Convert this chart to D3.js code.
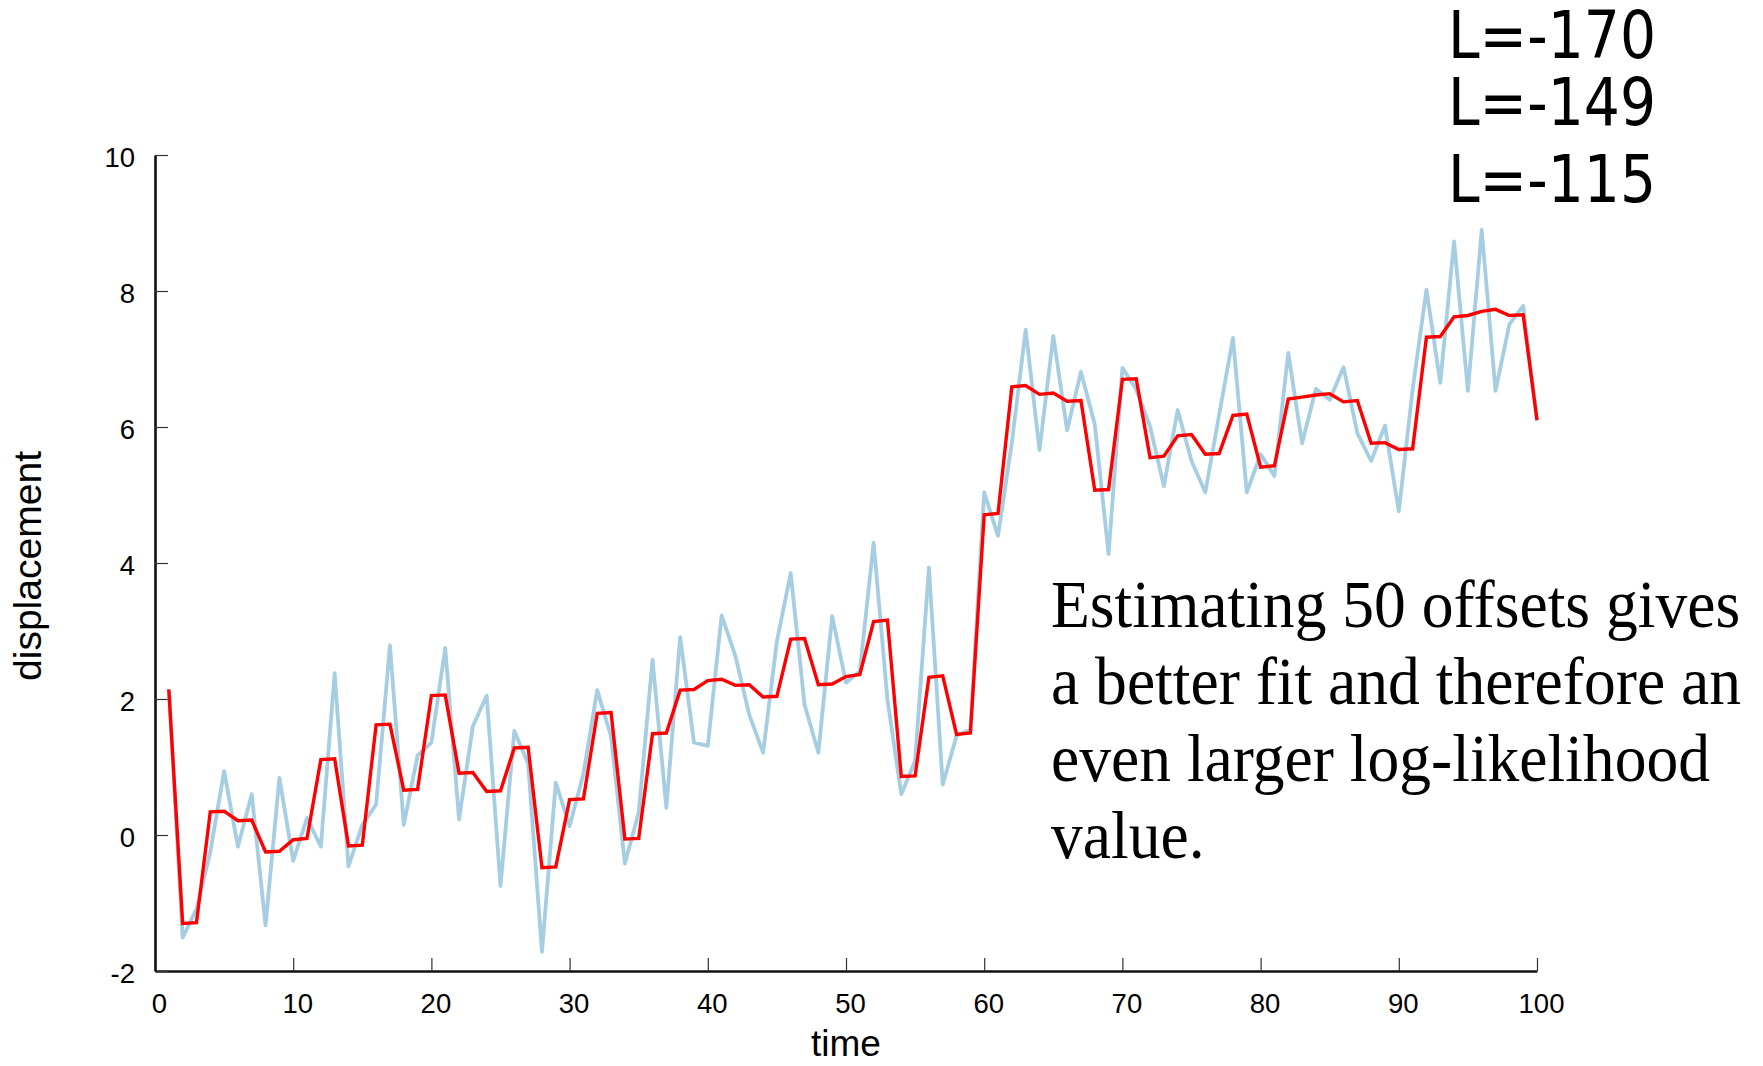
<!DOCTYPE html>
<html>
<head>
<meta charset="utf-8">
<script src="https://cdn.jsdelivr.net/npm/d3@7"></script>
<style>
  body { margin: 0; background: #fff; }
  svg { display: block; }
</style>
</head>
<body>
<div id="chart"></div>
<script>
// observed displacement (light blue) and fitted offsets (red), t = 1..100
const times = d3.range(1, 101)

const observed = [
  2.14, -1.51, -1.09, -0.25, 0.94, -0.17, 0.60, -1.33, 0.84, -0.38,
  0.25, -0.17, 2.38, -0.46, 0.15, 0.45, 2.79, 0.15, 1.17, 1.36,
  2.75, 0.23, 1.60, 2.05, -0.75, 1.53, 1.05, -1.72, 0.77, 0.13,
  0.90, 2.13, 1.45, -0.42, 0.33, 2.58, 0.40, 2.91, 1.36, 1.31,
  3.23, 2.63, 1.77, 1.21, 2.85, 3.85, 1.92, 1.21, 3.22, 2.24,
  2.41, 4.30, 1.99, 0.60, 1.09, 3.93, 0.74, 1.46, 1.55, 5.04,
  4.40, 5.77, 7.43, 5.66, 7.34, 5.95, 6.81, 6.04, 4.13, 6.87,
  6.55, 6.01, 5.13, 6.25, 5.50, 5.04, 6.18, 7.31, 5.04, 5.60,
  5.28, 7.09, 5.76, 6.56, 6.40, 6.88, 5.91, 5.50, 6.02, 4.76,
  6.55, 8.02, 6.65, 8.73, 6.53, 8.90, 6.53, 7.51, 7.78, 6.10
]

const fitted = [
  2.14, -1.30, -1.29, 0.34, 0.35, 0.21, 0.22, -0.25, -0.24, -0.07,
  -0.05, 1.11, 1.12, -0.16, -0.15, 1.62, 1.63, 0.66, 0.67, 2.05,
  2.06, 0.91, 0.92, 0.64, 0.65, 1.28, 1.29, -0.48, -0.47, 0.52,
  0.53, 1.79, 1.80, -0.06, -0.05, 1.49, 1.50, 2.13, 2.14, 2.27,
  2.29, 2.20, 2.21, 2.03, 2.04, 2.88, 2.89, 2.21, 2.22, 2.33,
  2.36, 3.14, 3.16, 0.86, 0.87, 2.32, 2.34, 1.48, 1.50, 4.71,
  4.73, 6.59, 6.61, 6.48, 6.50, 6.38, 6.39, 5.07, 5.08, 6.70,
  6.71, 5.55, 5.57, 5.87, 5.89, 5.60, 5.61, 6.17, 6.19, 5.41,
  5.43, 6.41, 6.44, 6.47, 6.49, 6.37, 6.39, 5.76, 5.77, 5.67,
  5.68, 7.32, 7.33, 7.62, 7.64, 7.70, 7.73, 7.64, 7.65, 6.10
]

const xTicks = [0, 10, 20, 30, 40, 50, 60, 70, 80, 90, 100]
const yTicks = [-2, 0, 2, 4, 6, 8, 10]

const likelihoods = ["L=-170", "L=-149", "L=-115"]
const note = [
  "Estimating 50 offsets gives",
  "a better fit and therefore an",
  "even larger log-likelihood",
  "value."
]

const W = 1763, H = 1066
const margin = { top: 155, right: 226, bottom: 95, left: 155 }

const svg = d3.select("#chart").append("svg")
  .attr("width", W).attr("height", H)

const x = d3.scaleLinear().domain([0, 100]).range([margin.left, W - margin.right])
const y = d3.scaleLinear().domain([-2, 10]).range([H - margin.bottom, margin.top])

// axes, ticks point inward; plain hyphen for negatives
const xAxis = svg.append("g")
  .attr("transform", `translate(0,${y(-2)})`)
  .call(d3.axisBottom(x).tickValues(xTicks).tickFormat(d => String(d))
    .tickSizeInner(-13).tickSizeOuter(0).tickPadding(22))

const yAxis = svg.append("g")
  .attr("transform", `translate(${x(0)},0)`)
  .call(d3.axisLeft(y).tickValues(yTicks).tickFormat(d => String(d))
    .tickSizeInner(-13).tickSizeOuter(0).tickPadding(20))

for (const ax of [xAxis, yAxis]) {
  ax.select(".domain").attr("stroke", "#111").attr("stroke-width", 2.6)
  ax.selectAll(".tick line").attr("stroke", "#333").attr("stroke-width", 1.2)
  ax.selectAll(".tick text")
    .style("font-family", "'Liberation Sans', Arial, sans-serif")
    .style("font-size", "27.5px").attr("fill", "#000")
}
xAxis.selectAll(".tick text").attr("dx", 4)
yAxis.selectAll(".tick text").attr("dy", "0.42em")

// axis titles
svg.append("text")
  .attr("x", x(50)).attr("y", 1056)
  .attr("text-anchor", "middle")
  .style("font-family", "'Liberation Sans', Arial, sans-serif")
  .style("font-size", "37px")
  .text("time")

svg.append("text")
  .attr("transform", `translate(41,${y(4) + 3}) rotate(-90)`)
  .attr("text-anchor", "middle")
  .attr("textLength", 230)
  .attr("lengthAdjust", "spacingAndGlyphs")
  .style("font-family", "'Liberation Sans', Arial, sans-serif")
  .style("font-size", "38px")
  .text("displacement")

// lines
const line = d3.line().x((d, i) => x(times[i])).y(d => y(d))

svg.append("path")
  .datum(observed)
  .attr("d", line)
  .attr("fill", "none")
  .attr("stroke", "#a6cee3")
  .attr("stroke-width", 3.8)
  .attr("stroke-linejoin", "round")

svg.append("path")
  .datum(fitted)
  .attr("d", line)
  .attr("fill", "none")
  .attr("stroke", "#ff0000")
  .attr("stroke-width", 3.4)
  .attr("stroke-linejoin", "miter")

// log-likelihood labels top right
svg.selectAll(".lik")
  .data(likelihoods).join("text")
  .attr("class", "lik")
  .attr("x", 1448)
  .attr("y", (d, i) => [58, 125, 202][i])
  .attr("textLength", 208)
  .attr("lengthAdjust", "spacingAndGlyphs")
  .style("font-family", "'DejaVu Sans', Verdana, sans-serif")
  .style("font-size", "65px")
  .text(d => d)

// annotation
const noteG = svg.append("g").attr("transform", "translate(1051,0) scale(0.935,1)")
noteG.selectAll("text")
  .data(note).join("text")
  .attr("x", 0)
  .attr("y", (d, i) => 627 + i * 77)
  .style("font-family", "'Liberation Serif', 'Times New Roman', serif")
  .style("font-size", "68px")
  .text(d => d)
</script>
</body>
</html>
